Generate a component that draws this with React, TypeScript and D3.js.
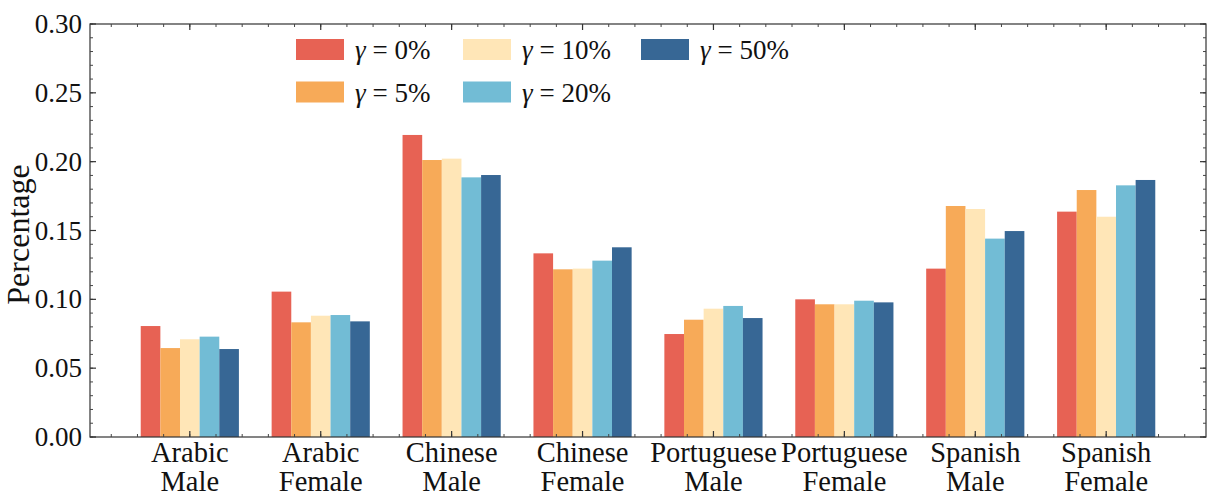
import * as d3 from 'd3'

const categories = [
  ['Arabic', 'Male'],
  ['Arabic', 'Female'],
  ['Chinese', 'Male'],
  ['Chinese', 'Female'],
  ['Portuguese', 'Male'],
  ['Portuguese', 'Female'],
  ['Spanish', 'Male'],
  ['Spanish', 'Female'],
]

const gammas = ['0', '5', '10', '20', '50']
const colors = ['#e76254', '#f7aa58', '#ffe6b7', '#72bcd5', '#376795']

// one row per gamma, one value per category
const g0 = [0.0806, 0.1056, 0.2194, 0.1334, 0.0748, 0.1000, 0.1223, 0.1637]
const g5 = [0.0646, 0.0833, 0.2012, 0.1218, 0.0852, 0.0964, 0.1678, 0.1794]
const g10 = [0.0710, 0.0881, 0.2022, 0.1223, 0.0932, 0.0964, 0.1656, 0.1600]
const g20 = [0.0729, 0.0886, 0.1886, 0.1281, 0.0952, 0.0990, 0.1441, 0.1828]
const g50 = [0.0639, 0.0840, 0.1903, 0.1378, 0.0864, 0.0978, 0.1496, 0.1867]
const series = [g0, g5, g10, g20, g50]

const yTicks = [0, 0.05, 0.1, 0.15, 0.2, 0.25, 0.3]

const W = 1219
const H = 504
const left = 90
const right = 1206
const top = 24
const bottom = 437
const barW = 0.15
const font = '"Liberation Serif", "DejaVu Serif", serif'

export default function App() {
  const x = d3.scaleLinear().domain([-0.7625, 7.7625]).range([left, right])
  const y = d3.scaleLinear().domain([0, 0.3]).range([bottom, top])

  const yMinor = d3.range(0, 0.3001, 0.01)
  const xMinor = d3.range(-0.6, 7.7, 0.2)

  return (
    <div style={{ position: 'absolute', left: 0, top: 0 }}>
      <svg width={W} height={H} style={{ display: 'block', background: 'white' }}>
        {series.map((vals, si) =>
          vals.map((v, ci) => (
            <rect
              key={`${si}-${ci}`}
              x={x(ci + (si - 2) * barW - barW / 2)}
              y={y(v)}
              width={x(barW) - x(0)}
              height={y(0) - y(v)}
              fill={colors[si]}
            />
          ))
        )}

        {/* frame */}
        <rect x={left} y={top} width={right - left} height={bottom - top}
          fill="none" stroke="#333" strokeWidth={1.2} />

        {/* y ticks, inward on both sides */}
        {yMinor.map((t, i) => (
          <g key={`ym${i}`} stroke="#444" strokeWidth={1}>
            <line x1={left} x2={left + 3} y1={y(t)} y2={y(t)} />
            <line x1={right} x2={right - 3} y1={y(t)} y2={y(t)} />
          </g>
        ))}
        {yTicks.map((t) => (
          <g key={`y${t}`}>
            <line x1={left} x2={left + 6} y1={y(t)} y2={y(t)} stroke="#333" strokeWidth={1.2} />
            <line x1={right} x2={right - 6} y1={y(t)} y2={y(t)} stroke="#333" strokeWidth={1.2} />
            <text x={left - 8} y={y(t) + 9} textAnchor="end" fontFamily={font} fontSize={27} fill="#111">
              {d3.format('.2f')(t)}
            </text>
          </g>
        ))}

        {/* x ticks */}
        {xMinor.map((t, i) => (
          <g key={`xm${i}`} stroke="#444" strokeWidth={1}>
            <line x1={x(t)} x2={x(t)} y1={bottom} y2={bottom - 3} />
            <line x1={x(t)} x2={x(t)} y1={top} y2={top + 3} />
          </g>
        ))}
        {categories.map((c, i) => (
          <g key={`x${i}`}>
            <line x1={x(i)} x2={x(i)} y1={bottom} y2={bottom - 6} stroke="#333" strokeWidth={1.2} />
            <line x1={x(i)} x2={x(i)} y1={top} y2={top + 6} stroke="#333" strokeWidth={1.2} />
            <text x={x(i)} textAnchor="middle" fontFamily={font} fontSize={28.5} fill="#111">
              <tspan x={x(i)} y={462}>{c[0]}</tspan>
              <tspan x={x(i)} y={491}>{c[1]}</tspan>
            </text>
          </g>
        ))}

        <text
          transform={`translate(29,${(top + bottom) / 2 + 4}) rotate(-90)`}
          textAnchor="middle" fontFamily={font} fontSize={32} fill="#111"
        >
          Percentage
        </text>

        {/* legend, column-major, 3 columns */}
        {gammas.map((gm, i) => {
          const col = Math.floor(i / 2)
          const row = i % 2
          const lx = [296, 463, 641][col]
          const ly = 39 + row * 42.5
          return (
            <g key={`lg${gm}`}>
              <rect x={lx} y={ly} width={48} height={21} fill={colors[i]} />
              <text x={lx + 59} y={ly + 20} fontFamily={font} fontSize={27} fill="#111">
                <tspan fontStyle="italic">γ</tspan> = {gm}%
              </text>
            </g>
          )
        })}
      </svg>
    </div>
  )
}
